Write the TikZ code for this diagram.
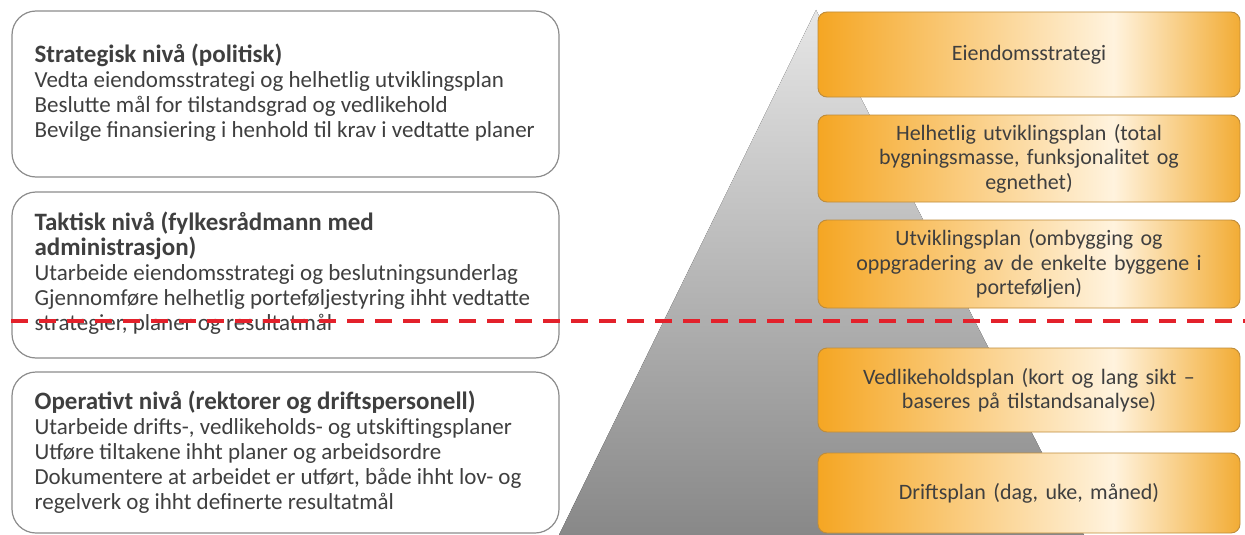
\documentclass[tikz,border=0pt]{standalone}
\usepackage{fontspec}
\setmainfont{Carlito}
\definecolor{txt}{HTML}{3F3F3F}
\definecolor{lborder}{HTML}{8C8C8C}
\definecolor{oL}{HTML}{F5A623}
\definecolor{oM}{HTML}{FFF3DE}
\definecolor{oR}{HTML}{F2AC35}
\definecolor{oB}{HTML}{BF8C3A}
\definecolor{dred}{HTML}{E3212B}
\definecolor{gTop}{HTML}{E6E6E6}
\definecolor{gBot}{HTML}{888888}
\pgfdeclarehorizontalshading{orangegrad}{100bp}{color(0bp)=(oL); color(25bp)=(oL); color(60bp)=(oM); color(75bp)=(oR); color(100bp)=(oR)}
\newcommand\lvltitle[1]{{\fontsize{25}{25}\selectfont\bfseries #1}}
\tikzset{
  lbox/.style={draw=lborder, line width=1.2pt, fill=white, rounded corners=24pt,
    minimum width=547pt},
  ltext/.style={anchor=west, inner sep=0pt, align=left, text=txt,
    font=\fontsize{23}{25}\selectfont},
  obox/.style={draw=oB, line width=0.9pt, shade, shading=orangegrad, rounded corners=9pt,
    minimum width=422pt, text width=406pt, align=center, text=txt,
    font=\fontsize{22}{24.5}\selectfont},
  dashline/.style={draw=dred, line width=4pt, dash pattern=on 17pt off 11pt, dash phase=17pt}
}
\begin{document}
\begin{tikzpicture}[x=1pt,y=-1pt]
\useasboundingbox (0,0) rectangle (1245,535);
% pyramid
\fill[top color=gTop, bottom color=gBot] (816,10) -- (1084,535) -- (559,535) -- cycle;
% left boxes
\node[lbox, minimum height=166pt] (s1) at (285.5,94) {};
\node[lbox, minimum height=166pt] (s2) at (285.5,275) {};
\node[lbox, minimum height=161pt] (s3) at (285.5,452.5) {};
\node[ltext] (t1) at ([xshift=23pt,yshift=1pt]s1.west) {\lvltitle{Strategisk nivå (politisk)}\\
Vedta eiendomsstrategi og helhetlig utviklingsplan\\
Beslutte mål for tilstandsgrad og vedlikehold\\
Bevilge finansiering i henhold til krav i vedtatte planer};
\node[ltext] (t2) at ([xshift=23pt,yshift=2pt]s2.west) {\lvltitle{Taktisk nivå (fylkesrådmann med}\\
\lvltitle{administrasjon)}\\
Utarbeide eiendomsstrategi og beslutningsunderlag\\
Gjennomføre helhetlig porteføljestyring ihht vedtatte\\
strategier, planer og resultatmål};
\node[ltext] (t3) at ([xshift=23pt]s3.west) {\lvltitle{Operativt nivå (rektorer og driftspersonell)}\\
Utarbeide drifts-, vedlikeholds- og utskiftingsplaner\\
Utføre tiltakene ihht planer og arbeidsordre\\
Dokumentere at arbeidet er utført, både ihht lov- og\\
regelverk og ihht definerte resultatmål};
% right boxes
\node[obox, minimum height=85pt] (p1) at (1029,54.5) {Eiendomsstrategi};
\node[obox, minimum height=87pt] (p2) at (1029,158.5) {Helhetlig utviklingsplan (total\\ bygningsmasse, funksjonalitet og\\ egnethet)};
\node[obox, minimum height=88pt] (p3) at (1029,264) {Utviklingsplan (ombygging og\\ oppgradering av de enkelte byggene i\\ porteføljen)};
\node[obox, minimum height=84pt] (p4) at (1029,390) {Vedlikeholdsplan (kort og lang sikt –\\ baseres på tilstandsanalyse)};
\node[obox, minimum height=80pt] (p5) at (1029,493) {Driftsplan (dag, uke, måned)};
% dashed separator
\coordinate (dl) at (0,321);
\coordinate (dr) at (1245,321);
\draw[dashline] (dl) -- (dr);
\end{tikzpicture}
\end{document}
